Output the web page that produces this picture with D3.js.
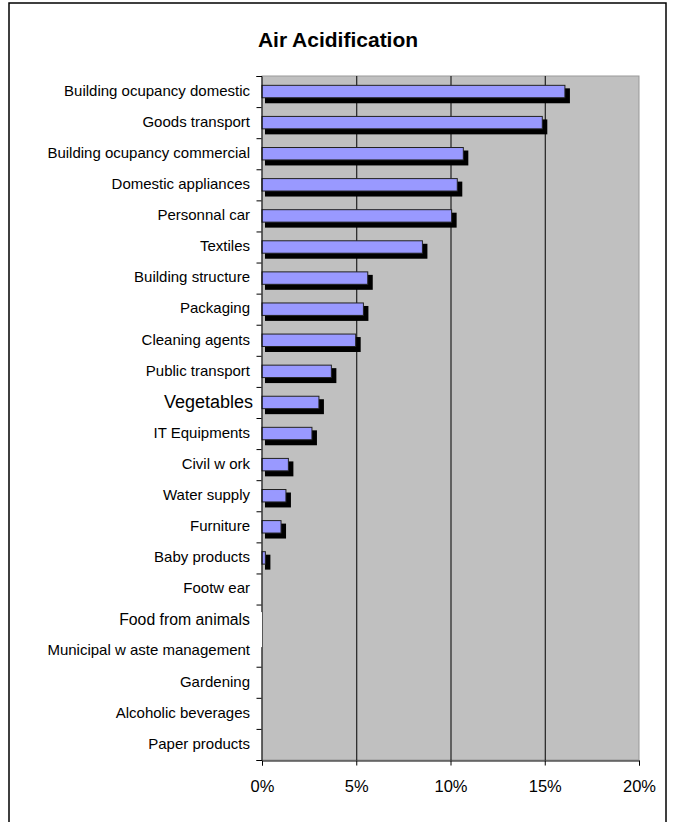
<!doctype html>
<html>
<head>
<meta charset="utf-8"/>
<title>Air Acidification</title>
<script src="https://cdnjs.cloudflare.com/ajax/libs/d3/7.8.5/d3.min.js"></script>
<style>
  body { margin: 0; background: #fff; }
  svg { display: block; font-family: Arial, "Liberation Sans", sans-serif; }
</style>
</head>
<body>
<svg id="chart" width="675" height="822"></svg>
<script>
// data (share of total, %)
var categories = ["Building ocupancy domestic", "Goods transport", "Building ocupancy commercial",
  "Domestic appliances", "Personnal car", "Textiles", "Building structure", "Packaging",
  "Cleaning agents", "Public transport", "Vegetables", "IT Equipments", "Civil w ork",
  "Water supply", "Furniture", "Baby products", "Footw ear", "Food from animals",
  "Municipal w aste management", "Gardening", "Alcoholic beverages", "Paper products"];
var values = [16.07, 14.87, 10.68, 10.36, 10.06, 8.51, 5.61, 5.38,
  4.97, 3.68, 3.02, 2.65, 1.40, 1.27, 1.01, 0.18, 0, 0, 0, 0, 0, 0];
var xTicks = [0, 5, 10, 15, 20];

var svg = d3.select("#chart");
var pLeft = 262, pRight = 639, pTop = 76, pBottom = 760;

// outer frame
svg.append("rect").attr("x", 9).attr("y", 3).attr("width", 657).attr("height", 840)
  .attr("fill", "none").attr("stroke", "#000").attr("stroke-width", 1.5);

svg.append("text").attr("x", 338).attr("y", 47).attr("text-anchor", "middle")
  .style("font-size", "21px").style("font-weight", "bold").text("Air Acidification");

var x = d3.scaleLinear().domain([0, 20]).range([pLeft, pRight]);
var yBar = d3.scaleBand().domain(categories).range([pTop, pBottom]).paddingInner(0.6).paddingOuter(0.3);
var yRow = d3.scaleBand().domain(categories).range([pTop, pBottom]);
var yTick = d3.scaleLinear().domain([0, categories.length]).range([pTop, pBottom]);

// plot area
svg.append("rect").attr("x", pLeft).attr("y", pTop).attr("width", pRight - pLeft).attr("height", pBottom - pTop)
  .attr("fill", "#c0c0c0").attr("stroke", "#999").attr("stroke-width", 1);

svg.append("g").selectAll("line").data(xTicks.slice(1, -1)).enter().append("line")
  .attr("x1", d => x(d) + 0.5).attr("x2", d => x(d) + 0.5)
  .attr("y1", pTop).attr("y2", pBottom).attr("stroke", "#000").attr("stroke-width", 1);

var rows = categories.map((c, i) => ({ cat: c, v: values[i] })).filter(d => d.v > 0);

// shadow then bar
svg.append("g").selectAll("rect").data(rows).enter().append("rect")
  .attr("x", x(0) + 3).attr("y", d => yBar(d.cat) + 3)
  .attr("width", d => x(d.v) - x(0) + 2).attr("height", yBar.bandwidth() + 2.5)
  .attr("fill", "#000");

svg.append("g").selectAll("rect").data(rows).enter().append("rect")
  .attr("x", x(0)).attr("y", d => yBar(d.cat))
  .attr("width", d => x(d.v) - x(0)).attr("height", yBar.bandwidth())
  .attr("fill", "#9999ff").attr("stroke", "#222").attr("stroke-width", 1);

// axes
var yAxis = d3.axisLeft(yTick).tickValues(d3.range(categories.length + 1))
  .tickSize(5).tickFormat("");
svg.append("g").attr("transform", "translate(" + (pLeft - 0.5) + ",0)").call(yAxis)
  .call(g => g.selectAll("line,path").attr("stroke", "#000"));

var xAxis = d3.axisBottom(x).tickValues(xTicks).tickSize(5).tickFormat(d => d + "%");
svg.append("g").attr("transform", "translate(0," + (pBottom + 0.5) + ")").call(xAxis)
  .call(g => g.selectAll("line,path").attr("stroke", "#000"))
  .call(g => g.selectAll("text").attr("y", 31.5).attr("dy", 0)
    .style("font-size", "16.5px").style("font-family", "Arial, 'Liberation Sans', sans-serif").attr("fill", "#000"));

// white box behind the "Food from animals" label (hides the axis there)
var foodY = yRow("Food from animals") + yRow.bandwidth() / 2;
svg.append("rect").attr("x", 115).attr("y", foodY - 8).attr("width", pLeft - 115).attr("height", 35)
  .attr("fill", "#fff");

var labelSize = { "Vegetables": 18, "Food from animals": 15.8 };
svg.append("g").selectAll("text").data(categories).enter().append("text")
  .attr("x", d => d === "Vegetables" ? 253 : 250)
  .attr("y", d => yRow(d) + yRow.bandwidth() / 2 - 1)
  .attr("dy", "0.35em").attr("text-anchor", "end")
  .style("font-size", d => (labelSize[d] || 15) + "px")
  .text(d => d);
</script>
</body>
</html>
